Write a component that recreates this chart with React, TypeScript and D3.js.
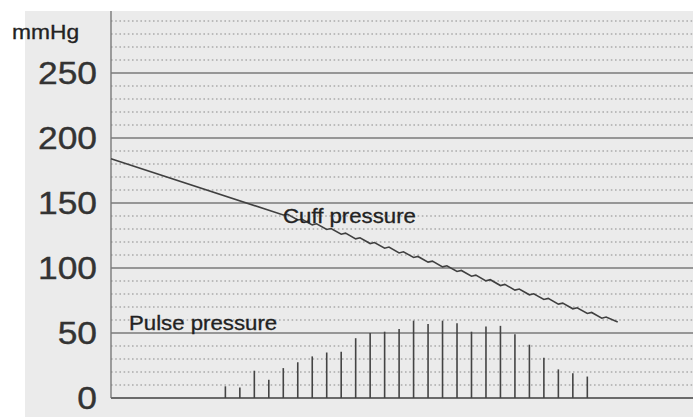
import React, { useEffect, useRef } from 'react';
import * as d3 from 'd3';

// y axis labels (mmHg)
const majorTicks = [0, 50, 100, 150, 200, 250];
const minorTicks = [10, 20, 30, 40, 60, 70, 80, 90, 110, 120, 130, 140, 160, 170, 180, 190, 210, 220, 230, 240, 260, 270, 280, 290];

// pulse pressure oscillations: beat time and height (mmHg)
const pulseTimes = [7.9, 8.9, 9.9, 10.9, 11.9, 12.9, 13.9, 14.9, 15.9, 16.9, 17.9, 18.9, 19.9, 20.9, 21.9, 22.9, 23.9, 24.9, 25.9, 26.9, 27.9, 28.9, 29.9, 30.9, 31.9, 32.9];
const pulseHeights = [9, 8, 21, 14, 23, 27.5, 32, 35, 35.5, 46, 50, 51, 53, 59.5, 57, 59.5, 57.5, 51, 55, 55.5, 49, 41, 31, 22, 19, 16.5];

// cuff pressure trace
const cuffTimes = [0, 11.9, 12.2, 12.9, 13.2, 13.9, 14.2, 14.9, 15.2, 15.9, 16.2, 16.9, 17.2, 17.9, 18.2, 18.9, 19.2, 19.9, 20.2, 20.9, 21.2, 21.9, 22.2, 22.9, 23.2, 23.9, 24.2, 24.9, 25.2, 25.9, 26.2, 26.9, 27.2, 27.9, 28.2, 28.9, 29.2, 29.9, 30.2, 30.9, 31.2, 31.9, 32.2, 32.9, 33.2, 33.9, 34.2, 35];
const cuffValues = [184, 140.8, 141.3, 136.9, 137.5, 133.2, 134.0, 129.6, 130.4, 126.0, 126.8, 122.4, 123.2, 118.8, 119.6, 115.2, 116.1, 111.6, 112.5, 108.1, 108.9, 104.5, 105.3, 100.9, 101.7, 97.3, 98.1, 93.7, 94.5, 90.1, 91.0, 86.5, 87.4, 83.0, 83.8, 79.4, 80.2, 75.8, 76.6, 72.2, 73.0, 68.6, 69.4, 65.0, 65.8, 61.4, 62.3, 58.5];

const W = 693;
const H = 417;

const App: React.FC = () => {
  const svgRef = useRef<SVGSVGElement>(null);

  useEffect(() => {
    if (!svgRef.current) return;
    const svg = d3.select(svgRef.current);
    svg.selectAll("*").remove();

    const plotLeft = 111;
    const plotRight = W;

    const x = d3.scaleLinear().domain([0, 40.2]).range([plotLeft, plotRight]);
    const y = d3.scaleLinear().domain([0, 250]).range([398, 73]);

    const font = "'Liberation Sans', Arial, sans-serif";
    const textColor = "#222";
    const stretch = 1.14;

    // paper background
    svg.append("rect")
      .attr("x", 25).attr("y", 11)
      .attr("width", W - 25).attr("height", H - 11)
      .style("fill", "#ebebeb");

    // minor dotted grid
    svg.append("g").selectAll("line")
      .data(minorTicks)
      .join("line")
      .attr("x1", plotLeft).attr("x2", plotRight)
      .attr("y1", d => y(d)).attr("y2", d => y(d))
      .style("stroke", "#8c8c8c")
      .style("stroke-width", 1.2)
      .style("stroke-dasharray", "1.6,2.6");

    // major solid grid
    svg.append("g").selectAll("line")
      .data(majorTicks.filter(d => d > 0))
      .join("line")
      .attr("x1", plotLeft).attr("x2", plotRight)
      .attr("y1", d => y(d)).attr("y2", d => y(d))
      .style("stroke", "#7a7a7a")
      .style("stroke-width", 1.4);

    // left border and baseline
    svg.append("line")
      .attr("x1", plotLeft).attr("x2", plotLeft)
      .attr("y1", 11).attr("y2", y(0))
      .style("stroke", "#7a7a7a").style("stroke-width", 1.4);
    svg.append("line")
      .attr("x1", plotLeft).attr("x2", plotRight)
      .attr("y1", y(0)).attr("y2", y(0))
      .style("stroke", "#6a6a6a").style("stroke-width", 1.8);

    // y tick labels
    const rightEdge = 97;
    svg.append("g").selectAll("text")
      .data(majorTicks)
      .join("text")
      .attr("transform", d => `translate(${rightEdge},${y(d) + 11}) scale(${stretch},1)`)
      .style("text-anchor", "end")
      .style("font-family", font)
      .style("font-size", "31px")
      .style("fill", "#333")
      .style("stroke", "#333")
      .style("stroke-width", 0.4)
      .text(d => d);

    svg.append("text")
      .attr("transform", `translate(12,39) scale(${stretch},1)`)
      .style("font-family", font)
      .style("font-size", "20px")
      .style("fill", textColor)
      .style("stroke", textColor)
      .style("stroke-width", 0.3)
      .text("mmHg");

    // pulse oscillation bars
    svg.append("g").selectAll("line")
      .data(pulseTimes)
      .join("line")
      .attr("x1", d => x(d)).attr("x2", d => x(d))
      .attr("y1", y(0))
      .attr("y2", (_, i) => y(pulseHeights[i]))
      .style("stroke", "#444")
      .style("stroke-width", 1.6);

    // cuff pressure line
    const line = d3.line<number>()
      .x(d => x(d))
      .y((_, i) => y(cuffValues[i]));
    svg.append("path")
      .datum(cuffTimes)
      .attr("d", line)
      .style("fill", "none")
      .style("stroke", "#404040")
      .style("stroke-width", 1.6);

    // annotations
    svg.append("text")
      .attr("transform", `translate(283,223) scale(${stretch},1)`)
      .style("font-family", font)
      .style("font-size", "19.5px")
      .style("fill", textColor)
      .style("stroke", textColor)
      .style("stroke-width", 0.3)
      .text("Cuff pressure");

    svg.append("text")
      .attr("transform", `translate(129,330) scale(${stretch},1)`)
      .style("font-family", font)
      .style("font-size", "19.5px")
      .style("fill", textColor)
      .style("stroke", textColor)
      .style("stroke-width", 0.3)
      .text("Pulse pressure");
  }, []);

  return (
    <svg
      ref={svgRef}
      width={W}
      height={H}
      style={{ position: "absolute", left: 0, top: 0, background: "#ffffff" }}
    />
  );
};

export default App;
